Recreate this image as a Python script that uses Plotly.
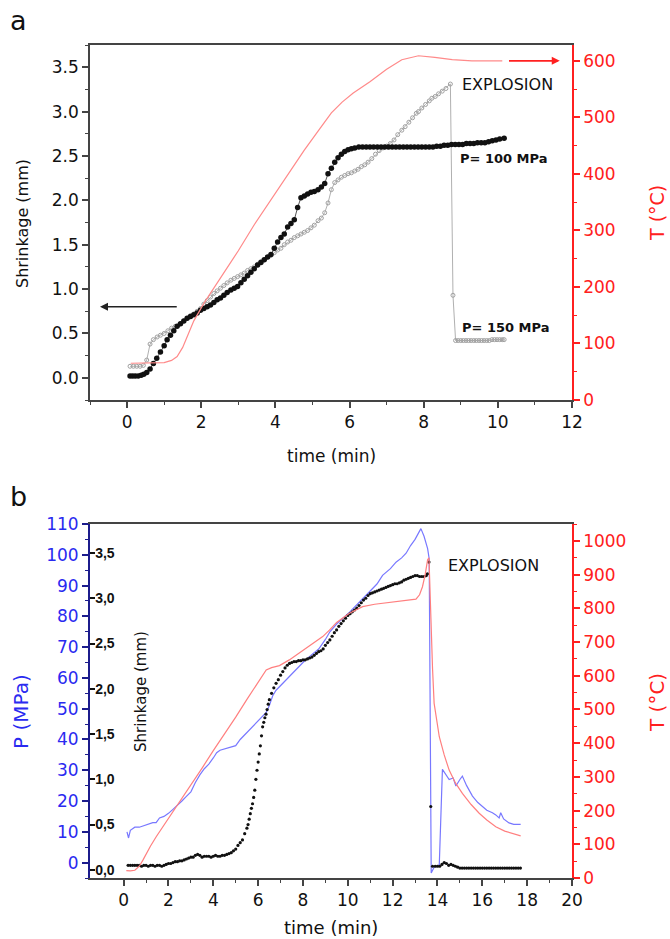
import plotly.graph_objects as go

# ---------------- Panel a data ----------------
# Temperature (right axis, °C) vs time (min)
a_temp = [(0.10, 65), (0.50, 65), (1.00, 66), (1.20, 70), (1.35, 77), (1.50, 93), (1.62, 112),
          (1.80, 140), (2.07, 171), (2.50, 214), (3.00, 264), (3.43, 310), (4.00, 365), (4.50, 415),
          (4.78, 442), (5.20, 480), (5.51, 508), (5.80, 527), (6.10, 543), (6.55, 563), (7.00, 585),
          (7.41, 602), (7.86, 609), (8.30, 606), (8.77, 602), (9.30, 600), (10.12, 600)]

# Shrinkage (mm) at P = 100 MPa
a_shrink_100 = [(0.08, 0.02), (0.15, 0.02), (0.22, 0.02), (0.30, 0.02), (0.38, 0.03), (0.45, 0.04),
                (0.53, 0.06), (0.62, 0.10), (0.71, 0.16), (0.80, 0.22), (0.90, 0.29), (1.00, 0.36),
                (1.08, 0.43), (1.17, 0.48), (1.26, 0.53), (1.35, 0.58), (1.44, 0.61), (1.53, 0.64),
                (1.62, 0.67), (1.71, 0.69), (1.80, 0.71), (1.89, 0.73), (1.98, 0.76), (2.07, 0.78),
                (2.16, 0.80), (2.25, 0.82), (2.34, 0.85), (2.43, 0.88), (2.52, 0.90), (2.61, 0.93),
                (2.70, 0.96), (2.80, 0.99), (2.89, 1.01), (2.98, 1.03), (3.07, 1.07), (3.16, 1.11),
                (3.25, 1.15), (3.34, 1.19), (3.43, 1.23), (3.52, 1.27), (3.61, 1.30), (3.70, 1.33),
                (3.79, 1.36), (3.88, 1.39), (3.97, 1.46), (4.06, 1.53), (4.15, 1.58), (4.24, 1.62),
                (4.33, 1.70), (4.42, 1.74), (4.51, 1.78), (4.60, 1.92), (4.69, 2.03), (4.78, 2.05),
                (4.87, 2.07), (4.96, 2.09), (5.05, 2.10), (5.15, 2.12), (5.24, 2.15), (5.33, 2.19),
                (5.42, 2.30), (5.51, 2.36), (5.60, 2.43), (5.69, 2.48), (5.78, 2.52), (5.87, 2.55),
                (5.96, 2.57), (6.05, 2.58), (6.14, 2.59), (6.25, 2.60), (6.35, 2.60), (6.45, 2.60),
                (6.55, 2.60), (6.65, 2.60), (6.75, 2.60), (6.85, 2.60), (6.95, 2.60), (7.05, 2.60),
                (7.15, 2.60), (7.25, 2.60), (7.35, 2.60), (7.45, 2.60), (7.55, 2.60), (7.65, 2.60),
                (7.75, 2.60), (7.85, 2.60), (7.95, 2.60), (8.05, 2.60), (8.15, 2.60), (8.25, 2.60),
                (8.35, 2.61), (8.45, 2.61), (8.55, 2.62), (8.65, 2.62), (8.75, 2.63), (8.85, 2.63),
                (8.95, 2.63), (9.05, 2.63), (9.15, 2.64), (9.25, 2.64), (9.35, 2.64), (9.45, 2.65),
                (9.55, 2.65), (9.65, 2.65), (9.75, 2.66), (9.85, 2.67), (9.95, 2.68), (10.05, 2.69),
                (10.17, 2.70)]

# Shrinkage (mm) at P = 150 MPa
a_shrink_150 = [(0.08, 0.13), (0.17, 0.13), (0.26, 0.13), (0.35, 0.13), (0.44, 0.14), (0.53, 0.20),
                (0.62, 0.38), (0.71, 0.43), (0.81, 0.46), (0.90, 0.48), (1.00, 0.50), (1.10, 0.53),
                (1.20, 0.56), (1.30, 0.58), (1.44, 0.61), (1.53, 0.64), (1.62, 0.67), (1.71, 0.70),
                (1.80, 0.72), (1.89, 0.75), (1.98, 0.78), (2.07, 0.83), (2.16, 0.87), (2.25, 0.91),
                (2.34, 0.95), (2.43, 0.98), (2.52, 1.01), (2.61, 1.04), (2.70, 1.07), (2.80, 1.10),
                (2.89, 1.12), (2.98, 1.14), (3.07, 1.16), (3.16, 1.18), (3.25, 1.21), (3.34, 1.23),
                (3.43, 1.25), (3.52, 1.28), (3.61, 1.31), (3.70, 1.33), (3.79, 1.36), (3.88, 1.38),
                (3.97, 1.41), (4.06, 1.44), (4.15, 1.46), (4.24, 1.50), (4.33, 1.53), (4.42, 1.55),
                (4.51, 1.58), (4.60, 1.60), (4.69, 1.62), (4.78, 1.64), (4.87, 1.66), (4.96, 1.69),
                (5.05, 1.72), (5.15, 1.77), (5.24, 1.80), (5.33, 1.86), (5.42, 1.97), (5.51, 2.12),
                (5.60, 2.20), (5.69, 2.23), (5.78, 2.26), (5.87, 2.28), (5.96, 2.30), (6.05, 2.31),
                (6.14, 2.33), (6.23, 2.35), (6.32, 2.38), (6.41, 2.40), (6.50, 2.43), (6.60, 2.47),
                (6.70, 2.52), (6.80, 2.56), (6.90, 2.59), (7.00, 2.61), (7.10, 2.64), (7.20, 2.68),
                (7.30, 2.74), (7.41, 2.79), (7.50, 2.83), (7.60, 2.88), (7.70, 2.93), (7.80, 2.98),
                (7.86, 3.00), (7.95, 3.04), (8.05, 3.08), (8.15, 3.12), (8.22, 3.15), (8.31, 3.17),
                (8.40, 3.20), (8.50, 3.23), (8.60, 3.26), (8.72, 3.31), (8.79, 0.93), (8.86, 0.42),
                (8.93, 0.42), (9.00, 0.42), (9.07, 0.42), (9.14, 0.42), (9.21, 0.42), (9.28, 0.42),
                (9.35, 0.42), (9.42, 0.42), (9.49, 0.42), (9.56, 0.42), (9.63, 0.42), (9.70, 0.42),
                (9.77, 0.42), (9.84, 0.43), (9.91, 0.43), (9.98, 0.43), (10.05, 0.43), (10.12, 0.43),
                (10.17, 0.43)]

# ---------------- Panel b data ----------------
b_pressure = [(0.15, 10.0), (0.22, 8.0), (0.30, 10.5), (0.50, 11.5), (0.70, 11.5), (0.90, 12.0),
              (1.10, 12.5), (1.30, 13.0), (1.45, 13.0), (1.60, 14.5), (1.80, 15.0), (2.00, 16.0),
              (2.20, 17.3), (2.40, 18.5), (2.60, 20.0), (2.80, 21.5), (3.00, 23.0), (3.20, 26.0),
              (3.40, 28.5), (3.60, 30.5), (3.80, 32.0), (4.00, 34.0), (4.15, 35.7), (4.30, 36.5),
              (4.50, 37.0), (4.70, 37.5), (5.00, 38.0), (5.20, 40.0), (5.40, 41.5), (5.60, 43.0),
              (5.80, 44.5), (6.00, 46.0), (6.20, 47.5), (6.36, 48.8), (6.50, 51.0), (6.65, 54.2),
              (6.80, 56.0), (7.00, 57.5), (7.20, 59.0), (7.40, 60.5), (7.70, 63.0), (8.00, 65.0),
              (8.30, 67.0), (8.70, 69.4), (9.00, 72.5), (9.20, 75.0), (9.50, 77.5), (9.80, 79.5),
              (10.07, 81.3), (10.50, 84.5), (10.96, 87.8), (11.30, 90.5), (11.55, 93.3), (11.90, 95.5),
              (12.15, 97.6), (12.40, 99.0), (12.60, 100.5), (12.80, 103.0), (13.00, 105.0),
              (13.15, 107.0), (13.26, 108.5), (13.40, 106.0), (13.56, 102.0), (13.63, 98.7),
              (13.68, 40.0), (13.72, -3.4), (13.85, -1.5), (14.08, -0.7), (14.22, 30.3), (14.40, 28.5),
              (14.52, 27.0), (14.70, 27.5), (14.82, 24.9), (15.00, 27.0), (15.11, 28.1), (15.30, 25.0),
              (15.56, 21.6), (15.80, 19.5), (16.00, 18.3), (16.20, 17.0), (16.45, 16.2), (16.60, 15.5),
              (16.75, 14.5), (16.82, 16.2), (16.95, 14.2), (17.19, 12.9), (17.40, 12.4), (17.71, 12.4)]

b_temp = [(0.12, 22), (0.30, 21), (0.50, 23), (0.70, 35), (0.86, 53), (1.00, 72), (1.20, 95),
          (1.46, 123), (2.00, 176), (2.50, 225), (2.94, 271), (3.50, 326), (4.00, 378), (4.42, 419),
          (5.00, 477), (5.50, 530), (6.00, 583), (6.36, 617), (6.60, 624), (6.95, 630), (7.39, 647),
          (8.00, 676), (8.50, 700), (8.88, 716), (9.18, 735), (9.50, 758), (10.07, 785), (10.66, 805),
          (11.20, 812), (12.15, 820), (12.70, 824), (13.04, 827), (13.20, 840), (13.33, 864),
          (13.45, 900), (13.56, 944), (13.62, 950), (13.70, 766), (13.78, 620), (13.85, 518),
          (14.00, 450), (14.08, 419), (14.30, 365), (14.52, 320), (14.80, 282), (15.11, 251),
          (15.50, 218), (15.86, 192), (16.20, 172), (16.60, 152), (17.00, 139), (17.40, 130),
          (17.71, 125)]

b_shrink = [(0.2, .05), (0.3, .05), (0.4, .05), (0.5, .05), (0.6, .05), (0.7, .05), (0.8, .04),
            (0.9, .05), (1.0, .05), (1.1, .04), (1.2, .05), (1.3, .05), (1.4, .04), (1.5, .05),
            (1.6, .05), (1.7, .04), (1.8, .05), (1.9, .06), (2.0, .07), (2.1, .07), (2.2, .08),
            (2.3, .09), (2.4, .09), (2.5, .10), (2.6, .10), (2.7, .11), (2.8, .12), (2.9, .13),
            (3.0, .14), (3.1, .14), (3.2, .16), (3.3, .17), (3.4, .16), (3.5, .14), (3.6, .15),
            (3.7, .15), (3.8, .15), (3.9, .14), (4.0, .15), (4.1, .16), (4.2, .15), (4.3, .15),
            (4.4, .16), (4.5, .16), (4.6, .17), (4.7, .18), (4.8, .19), (4.9, .21), (5.0, .23),
            (5.1, .27), (5.2, .30), (5.3, .33), (5.4, .40), (5.5, .46), (5.55, .50), (5.6, .56),
            (5.65, .62), (5.7, .68), (5.75, .73), (5.8, .80), (5.85, .88), (5.9, 1.00), (5.95, 1.10),
            (6.0, 1.19), (6.05, 1.28), (6.1, 1.37), (6.15, 1.48), (6.2, 1.58), (6.25, 1.63),
            (6.3, 1.68), (6.35, 1.72), (6.4, 1.77), (6.45, 1.83), (6.5, 1.88), (6.6, 1.95),
            (6.7, 2.01), (6.8, 2.06), (6.9, 2.10), (7.0, 2.15), (7.1, 2.19), (7.2, 2.23), (7.3, 2.26),
            (7.4, 2.28), (7.5, 2.29), (7.6, 2.30), (7.7, 2.30), (7.8, 2.31), (7.9, 2.31), (8.0, 2.32),
            (8.1, 2.32), (8.2, 2.33), (8.3, 2.34), (8.4, 2.35), (8.5, 2.37), (8.6, 2.39), (8.7, 2.41),
            (8.8, 2.42), (8.9, 2.44), (9.0, 2.48), (9.1, 2.51), (9.2, 2.54), (9.3, 2.58), (9.4, 2.62),
            (9.5, 2.65), (9.6, 2.69), (9.7, 2.72), (9.8, 2.75), (9.9, 2.78), (10.0, 2.81),
            (10.1, 2.83), (10.2, 2.85), (10.3, 2.87), (10.4, 2.89), (10.5, 2.92), (10.6, 2.95),
            (10.7, 2.98), (10.8, 3.00), (10.9, 3.03), (11.0, 3.05), (11.1, 3.06), (11.2, 3.07),
            (11.3, 3.08), (11.4, 3.09), (11.5, 3.10), (11.6, 3.11), (11.7, 3.12), (11.8, 3.13),
            (11.9, 3.14), (12.0, 3.15), (12.1, 3.16), (12.2, 3.16), (12.3, 3.17), (12.4, 3.18),
            (12.5, 3.20), (12.6, 3.21), (12.7, 3.22), (12.8, 3.23), (12.9, 3.24), (13.0, 3.25),
            (13.1, 3.25), (13.2, 3.24), (13.3, 3.24), (13.4, 3.24), (13.5, 3.25), (13.55, 3.27),
            (13.62, 3.40), (13.70, 0.70), (13.78, .04), (13.9, .04), (14.0, .04), (14.1, .04),
            (14.2, .06), (14.3, .08), (14.4, .07), (14.5, .05), (14.6, .06), (14.7, .05), (14.8, .04),
            (14.9, .03), (15.0, .02), (15.1, .02), (15.2, .02), (15.3, .02), (15.4, .02), (15.5, .02),
            (15.6, .02), (15.7, .02), (15.8, .02), (15.9, .02), (16.0, .02), (16.1, .02), (16.2, .02),
            (16.3, .02), (16.4, .02), (16.5, .02), (16.6, .02), (16.7, .02), (16.8, .02), (16.9, .02),
            (17.0, .02), (17.1, .02), (17.2, .02), (17.3, .02), (17.4, .02), (17.5, .02), (17.6, .02),
            (17.7, .02)]

shrink_b_ticks = [0.0, 0.5, 1.0, 1.5, 2.0, 2.5, 3.0, 3.5]
shrink_b_ticktext = ["0,0", "0,5", "1,0", "1,5", "2,0", "2,5", "3,0", "3,5"]


def xs(d):
    return [p[0] for p in d]


def ys(d):
    return [p[1] for p in d]


W, H = 670, 939
RED = "#ff2020"
BLUE = "#2a2af0"
FONT = "DejaVu Sans"


def px(x):
    return x / W


def py(y):
    return 1 - y / H


fig = go.Figure()

# Panel a
fig.add_trace(go.Scatter(x=xs(a_temp), y=ys(a_temp), xaxis="x", yaxis="y2", mode="lines",
                         line=dict(color="#ff8a8a", width=1.2)))
fig.add_trace(go.Scatter(x=xs(a_shrink_150), y=ys(a_shrink_150), xaxis="x", yaxis="y",
                         mode="lines+markers", line=dict(color="#b0b0b0", width=1),
                         marker=dict(symbol="circle-open", size=4, color="#a0a0a0", line=dict(width=1))))
fig.add_trace(go.Scatter(x=xs(a_shrink_100), y=ys(a_shrink_100), xaxis="x", yaxis="y",
                         mode="lines+markers", line=dict(color="#555555", width=1),
                         marker=dict(symbol="circle", size=5.5, color="#111111")))

# Panel b
fig.add_trace(go.Scatter(x=xs(b_temp), y=ys(b_temp), xaxis="x2", yaxis="y5", mode="lines",
                         line=dict(color="#ff7f7f", width=1.2)))
fig.add_trace(go.Scatter(x=xs(b_pressure), y=ys(b_pressure), xaxis="x2", yaxis="y3", mode="lines",
                         line=dict(color="#7878ff", width=1.2)))
fig.add_trace(go.Scatter(x=xs(b_shrink), y=ys(b_shrink), xaxis="x2", yaxis="y4", mode="markers",
                         marker=dict(symbol="circle", size=3.2, color="#111111")))

xdom = [px(90), px(572)]
a_dom = [py(400), py(45)]
b_dom = [py(878), py(524)]

xcommon = dict(showgrid=False, zeroline=False, showline=True, linecolor="#444", linewidth=1.5,
               mirror=True, ticks="outside", ticklen=6, tickwidth=1.5, tickcolor="#444",
               tickfont=dict(size=17, color="#111", family=FONT), automargin=False,
               minor=dict(ticks="outside", ticklen=3, tickwidth=1.2, tickcolor="#444", dtick=1))

fig.update_layout(
    width=W, height=H, margin=dict(l=0, r=0, t=0, b=0),
    plot_bgcolor="white", paper_bgcolor="white", showlegend=False,
    font=dict(family=FONT),
    xaxis=dict(domain=xdom, anchor="y", range=[-1, 12], dtick=2, tick0=0, **xcommon),
    yaxis=dict(domain=a_dom, anchor="x", range=[-0.25, 3.75], dtick=0.5, tick0=0, tickformat=".1f",
               showgrid=False, zeroline=False, showline=True, linecolor="#444", linewidth=1.5,
               ticks="outside", ticklen=6, tickwidth=1.5, tickcolor="#444",
               tickfont=dict(size=17, color="#111", family=FONT), automargin=False,
               minor=dict(ticks="outside", ticklen=3, tickwidth=1.2, tickcolor="#444", dtick=0.25)),
    yaxis2=dict(overlaying="y", side="right", anchor="x", range=[0, 628], dtick=100, tick0=0,
                showgrid=False, zeroline=False, showline=True, linecolor=RED, linewidth=1.5,
                ticks="outside", ticklen=6, tickwidth=1.5, tickcolor=RED,
                tickfont=dict(size=17, color=RED, family=FONT), automargin=False,
                minor=dict(ticks="outside", ticklen=3, tickwidth=1.2, tickcolor=RED, dtick=50)),
    xaxis2=dict(domain=xdom, anchor="y3", range=[-1.5, 20], dtick=2, tick0=0, **xcommon),
    yaxis3=dict(domain=b_dom, anchor="x2", range=[-5, 110], dtick=10, tick0=0,
                showgrid=False, zeroline=False, showline=True, linecolor="#1c1c8c", linewidth=2,
                ticks="outside", ticklen=6, tickwidth=1.5, tickcolor="#1c1c8c",
                tickfont=dict(size=17, color=BLUE, family=FONT), automargin=False,
                minor=dict(ticks="outside", ticklen=3, tickwidth=1.2, tickcolor="#1c1c8c", dtick=5)),
    yaxis4=dict(overlaying="y3", side="left", anchor="x2", range=[-0.09, 3.82],
                tickvals=shrink_b_ticks, ticktext=shrink_b_ticktext, ticklabelposition="inside",
                showgrid=False, zeroline=False, showline=False,
                ticks="inside", ticklen=5, tickwidth=1.5, tickcolor="#111",
                tickfont=dict(size=14, color="#111", family="Liberation Sans", weight="bold"),
                automargin=False),
    yaxis5=dict(overlaying="y3", side="right", anchor="x2", range=[0, 1050], dtick=100, tick0=0,
                showgrid=False, zeroline=False, showline=True, linecolor=RED, linewidth=1.5,
                ticks="outside", ticklen=6, tickwidth=1.5, tickcolor=RED,
                tickfont=dict(size=17, color=RED, family=FONT), automargin=False,
                minor=dict(ticks="outside", ticklen=3, tickwidth=1.2, tickcolor=RED, dtick=50)),
)


def label(text, x, y, size, color="#111", angle=0, bold=False, family=FONT):
    fig.add_annotation(text=("<b>%s</b>" % text) if bold else text, x=px(x), y=py(y),
                       xref="paper", yref="paper", showarrow=False, textangle=angle,
                       xanchor="center", yanchor="middle",
                       font=dict(size=size, color=color, family=family))


# Panel letters and axis titles
label("a", 18, 20, 27)
label("b", 18, 497, 27)
label("Shrinkage (mm)", 22, 224, 16, angle=-90)
label("time (min)", 331, 456, 17)
label("T (°C)", 657, 213, 19, color=RED, angle=-90)
label("P (MPa)", 21, 712, 20, color=BLUE, angle=-90)
label("Shrinkage (mm)", 141, 692, 15, angle=-90)
label("T (°C)", 657, 703, 20, color=RED, angle=-90)
label("time (min)", 331, 927, 18)

# In-plot texts
label("EXPLOSION", 508, 85, 16)
label("P= 100 MPa", 504, 158, 13, bold=True)
label("P= 150 MPa", 506, 327, 13, bold=True)
label("EXPLOSION", 493, 565, 16)

# Axis-pointing arrows (panel a)
fig.add_annotation(x=-0.73, y=0.8, ax=1.38, ay=0.8, xref="x", yref="y", axref="x", ayref="y",
                   showarrow=True, arrowhead=2, arrowsize=1, arrowwidth=1.6, arrowcolor="#222", text="")
fig.add_annotation(x=11.67, y=600, ax=10.26, ay=600, xref="x", yref="y2", axref="x", ayref="y2",
                   showarrow=True, arrowhead=2, arrowsize=1, arrowwidth=1.6, arrowcolor=RED, text="")

fig.write_html("out.html", config={"displayModeBar": False},
               post_script="document.body.style.margin='0';document.body.style.overflow='hidden';")
